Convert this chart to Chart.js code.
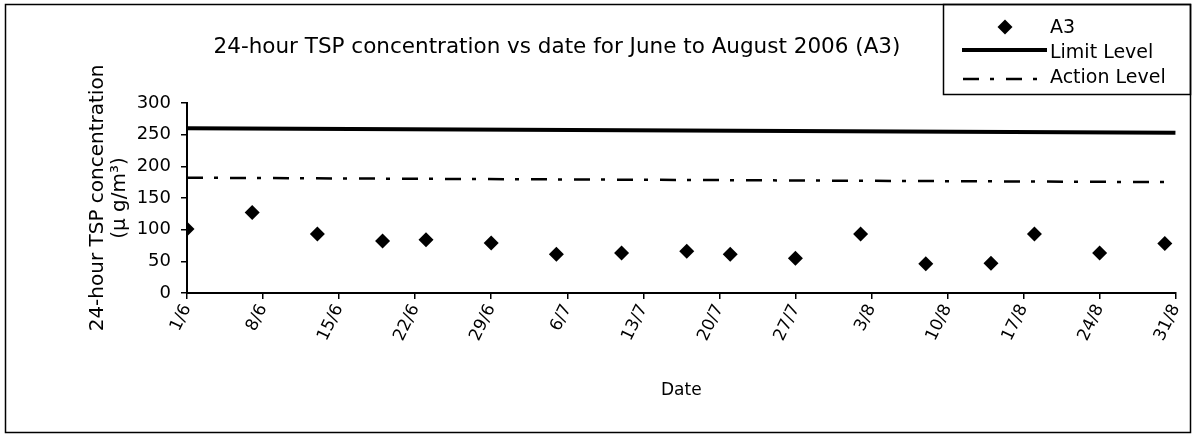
<!DOCTYPE html>
<html>
<head>
<meta charset="utf-8">
<script src="https://cdn.jsdelivr.net/npm/chart.js@4.4.0/dist/chart.umd.min.js"></script>
<style>
  html, body { margin: 0; padding: 0; background: #fff; }
  #wrap { position: relative; width: 1196px; height: 437px; }
</style>
</head>
<body>
<div id="wrap"><canvas id="tspChart" width="1196" height="437"></canvas></div>
<script>
// ==================== 数据 ====================
// A3 监测点 24 小时 TSP 读数（日/月，2006 年）
const sampleDates = ['1/6', '7/6', '13/6', '19/6', '23/6', '29/6', '5/7', '11/7', '17/7',
                     '21/7', '27/7', '2/8', '8/8', '14/8', '18/8', '24/8', '30/8'];
const a3Values = [101, 127, 93, 82, 84, 79, 61, 63, 66, 61, 55, 93, 46, 47, 93, 63, 78];

// 限值线 / 行动线（两端读数）
const levelDates = ['1/6', '31/8'];
const limitLevel = [260, 253];
const actionLevel = [182, 175];

// 坐标轴刻度
const tickDates = ['1/6', '8/6', '15/6', '22/6', '29/6', '6/7', '13/7', '20/7', '27/7',
                   '3/8', '10/8', '17/8', '24/8', '31/8'];
const yMin = 0;
const yMax = 300;
const yStep = 50;

const chartTitle = '24-hour TSP concentration vs date for June to August 2006 (A3)';
const yTitle = ['24-hour TSP concentration', '(\u03BC g/m\u00B3)'];
const xTitle = 'Date';
const legendLabels = ['A3', 'Limit Level', 'Action Level'];

// ==================== 日期工具 ====================
const DAY_MS = 86400000;
const START = Date.UTC(2006, 5, 1);

function toDay(str) {
    const parts = str.split('/');
    return (Date.UTC(2006, Number(parts[1]) - 1, Number(parts[0])) - START) / DAY_MS;
}

function dayLabel(v) {
    const d = new Date(START + v * DAY_MS);
    return d.getUTCDate() + '/' + (d.getUTCMonth() + 1);
}

const FONT = "'DejaVu Sans', sans-serif";
const ACTION_DASH = [16, 11, 4, 12];

// ==================== 外框、标题、图例 ====================
const framePlugin = {
    id: 'framePlugin',
    afterDraw(chart) {
        const ctx = chart.ctx;
        ctx.save();

        // 外框
        ctx.strokeStyle = '#000';
        ctx.lineWidth = 1.5;
        ctx.strokeRect(5.5, 4.5, 1185, 428);

        // 标题
        ctx.fillStyle = '#000';
        ctx.font = '21.5px ' + FONT;
        ctx.textAlign = 'center';
        ctx.textBaseline = 'middle';
        ctx.fillText(chartTitle, 557, 47);

        // 图例框
        ctx.strokeRect(943.5, 4.5, 247, 90);

        ctx.font = '19px ' + FONT;
        ctx.textAlign = 'left';

        // A3 菱形
        ctx.beginPath();
        ctx.moveTo(1005 - 7.5, 27);
        ctx.lineTo(1005, 27 - 7.5);
        ctx.lineTo(1005 + 7.5, 27);
        ctx.lineTo(1005, 27 + 7.5);
        ctx.closePath();
        ctx.fill();
        ctx.fillText(legendLabels[0], 1050, 28);

        // 限值线
        ctx.lineWidth = 4;
        ctx.beginPath();
        ctx.moveTo(962, 50);
        ctx.lineTo(1047, 50);
        ctx.stroke();
        ctx.fillText(legendLabels[1], 1050, 53);

        // 行动线
        ctx.lineWidth = 2.5;
        ctx.setLineDash(ACTION_DASH);
        ctx.beginPath();
        ctx.moveTo(963, 79);
        ctx.lineTo(1046, 79);
        ctx.stroke();
        ctx.setLineDash([]);
        ctx.fillText(legendLabels[2], 1050, 78);

        ctx.restore();
    }
};

// ==================== 绘制图表 ====================
const ctx = document.getElementById('tspChart').getContext('2d');

new Chart(ctx, {
    type: 'scatter',
    data: {
        datasets: [
            {
                label: legendLabels[0],
                data: sampleDates.map((d, i) => ({ x: toDay(d), y: a3Values[i] })),
                pointStyle: 'rectRot',
                pointRadius: 7.5,
                pointBackgroundColor: '#000',
                pointBorderColor: '#000',
                pointBorderWidth: 0,
                showLine: false
            },
            {
                label: legendLabels[1],
                data: levelDates.map((d, i) => ({ x: toDay(d), y: limitLevel[i] })),
                showLine: true,
                borderColor: '#000',
                borderWidth: 4,
                pointRadius: 0
            },
            {
                label: legendLabels[2],
                data: levelDates.map((d, i) => ({ x: toDay(d), y: actionLevel[i] })),
                showLine: true,
                borderColor: '#000',
                borderWidth: 2.5,
                borderDash: ACTION_DASH,
                pointRadius: 0
            }
        ]
    },
    options: {
        responsive: false,
        animation: false,
        layout: { padding: { top: 103, right: 19, left: 0, bottom: 0 } },
        plugins: {
            legend: { display: false },
            title: { display: false },
            tooltip: { enabled: false }
        },
        scales: {
            x: {
                type: 'linear',
                min: toDay(tickDates[0]),
                max: toDay(tickDates[tickDates.length - 1]),
                afterBuildTicks: scale => {
                    scale.ticks = tickDates.map(d => ({ value: toDay(d) }));
                },
                afterFit: scale => { scale.height = 144; },
                grid: { drawOnChartArea: false, drawTicks: true, tickLength: 6, color: '#000', lineWidth: 1.5 },
                border: { display: true, color: '#000', width: 2 },
                ticks: {
                    color: '#000',
                    font: { family: FONT, size: 17 },
                    autoSkip: false,
                    minRotation: 64,
                    maxRotation: 64,
                    padding: 2,
                    callback: value => dayLabel(value)
                },
                title: {
                    display: true,
                    text: xTitle,
                    color: '#000',
                    font: { family: FONT, size: 17 },
                    padding: { top: 0, bottom: 36 }
                }
            },
            y: {
                min: yMin,
                max: yMax,
                afterFit: scale => { scale.width = 187; },
                grid: { drawOnChartArea: false, drawTicks: true, tickLength: 6, color: '#000', lineWidth: 1.5 },
                border: { display: true, color: '#000', width: 2 },
                ticks: {
                    stepSize: yStep,
                    color: '#000',
                    font: { family: FONT, size: 18 },
                    padding: 10
                },
                title: {
                    display: true,
                    text: yTitle,
                    color: '#000',
                    font: { family: FONT, size: 20, lineHeight: 1.1 },
                    padding: { top: 87, bottom: 0 }
                }
            }
        }
    },
    plugins: [framePlugin]
});
</script>
</body>
</html>
